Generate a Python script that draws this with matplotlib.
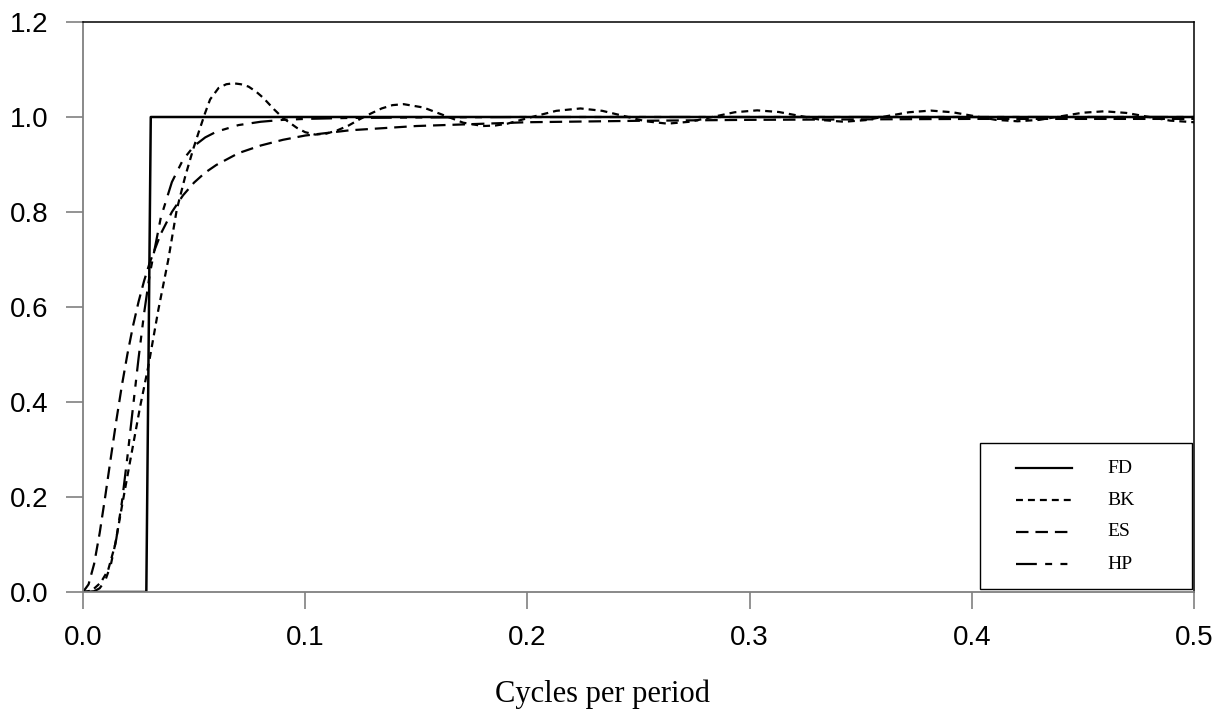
import matplotlib
matplotlib.use("Agg")
import matplotlib.pyplot as plt
from matplotlib.lines import Line2D
from matplotlib.patches import Rectangle

plt.rcParams["lines.scale_dashes"] = False

# ideal frequency-domain filter (FD)
fd_freq = [0.0, 0.0285, 0.0305, 0.5]
fd_gain = [0.0, 0.0, 1.0, 1.0]

# Baxter-King (BK)
bk_freq = [0.0, 0.004, 0.008, 0.0113, 0.0145, 0.0175, 0.021, 0.0257, 0.0294, 0.0339,
           0.0384, 0.0422, 0.046, 0.0497, 0.0522, 0.055, 0.0572, 0.061, 0.0645, 0.0677,
           0.071, 0.0745, 0.078, 0.0812, 0.086, 0.090, 0.0963, 0.100, 0.1045, 0.1095,
           0.1145, 0.1195, 0.1244, 0.1294, 0.1344, 0.1393, 0.1443, 0.1532, 0.1622, 0.1711,
           0.180, 0.1855, 0.191, 0.202, 0.213, 0.2239, 0.2337, 0.2435, 0.2532, 0.263,
           0.2731, 0.2832, 0.2933, 0.3034, 0.3132, 0.3229, 0.3327, 0.3425, 0.3522, 0.362,
           0.3717, 0.3815, 0.3913, 0.401, 0.4108, 0.4206, 0.4304, 0.4401, 0.4499, 0.4596,
           0.4695, 0.4793, 0.4892, 0.5]
bk_gain = [0.0, 0.003, 0.02, 0.046, 0.10, 0.18, 0.27, 0.39, 0.475, 0.594,
           0.70, 0.805, 0.875, 0.934, 0.97, 1.009, 1.037, 1.061, 1.069, 1.071,
           1.069, 1.064, 1.053, 1.040, 1.016, 0.998, 0.977, 0.968, 0.963, 0.965,
           0.972, 0.982, 0.995, 1.007, 1.018, 1.025, 1.027, 1.020, 1.004, 0.988,
           0.981, 0.982, 0.986, 1.000, 1.013, 1.018, 1.013, 1.002, 0.991, 0.986,
           0.990, 1.000, 1.010, 1.014, 1.0105, 1.002, 0.9935, 0.990, 0.9934, 1.002,
           1.010, 1.0135, 1.010, 1.002, 0.994, 0.991, 0.994, 1.0015, 1.009, 1.012,
           1.0086, 1.0005, 0.9924, 0.989]

# exponential smoothing (ES) and Hodrick-Prescott (HP), same grid
sm_freq = [0.0, 0.0025, 0.005, 0.0075, 0.01, 0.0125, 0.015, 0.0175, 0.02, 0.0225,
           0.025, 0.0275, 0.03, 0.035, 0.04, 0.045, 0.05, 0.055, 0.06, 0.07,
           0.08, 0.09, 0.10, 0.12, 0.15, 0.2, 0.25, 0.3, 0.35, 0.4, 0.45, 0.5]
es_gain = [0.0, 0.016, 0.059, 0.124, 0.201, 0.282, 0.361, 0.435, 0.501, 0.560,
           0.611, 0.655, 0.693, 0.754, 0.800, 0.835, 0.862, 0.883, 0.899, 0.924,
           0.940, 0.952, 0.961, 0.972, 0.981, 0.989, 0.992, 0.994, 0.995, 0.996, 0.996, 0.996]
hp_gain = [0.0, 0.0001, 0.0016, 0.0078, 0.024, 0.057, 0.112, 0.189, 0.285, 0.389,
           0.492, 0.587, 0.668, 0.788, 0.863, 0.910, 0.939, 0.957, 0.969, 0.983,
           0.990, 0.994, 0.996, 0.998, 0.999, 1.0, 1.0, 1.0, 1.0, 1.0, 1.0, 1.0]

x_ticks = [0.0, 0.1, 0.2, 0.3, 0.4, 0.5]
y_ticks = [0.0, 0.2, 0.4, 0.6, 0.8, 1.0, 1.2]

STYLES = {
    "FD": "-",
    "BK": (0, (5, 3.6)),
    "ES": (0, (9, 5)),
    "HP": (0, (15, 6, 5, 6, 5, 6)),
}
LW = 1.6

fig = plt.figure(figsize=(12.24, 7.11), dpi=100)
ax = fig.add_axes([83 / 1224, 1 - 592 / 711, 1111 / 1224, 570 / 711])

ax.plot(fd_freq, fd_gain, color="black", lw=1.8, ls=STYLES["FD"])
ax.plot(bk_freq, bk_gain, color="black", lw=LW, ls=STYLES["BK"])
ax.plot(sm_freq, es_gain, color="black", lw=LW, ls=STYLES["ES"])
ax.plot(sm_freq, hp_gain, color="black", lw=LW, ls=STYLES["HP"])

ax.set_xlim(0, 0.5)
ax.set_ylim(0, 1.2)
ax.set_xticks(x_ticks)
ax.set_xticklabels([f"{t:.1f}" for t in x_ticks])
ax.set_yticks(y_ticks)
ax.set_yticklabels([f"{t:.1f}" for t in y_ticks])
for lab in ax.get_xticklabels() + ax.get_yticklabels():
    lab.set_fontfamily("Liberation Sans")
    lab.set_fontsize(20)
ax.tick_params(axis="both", direction="out", length=12, width=1.2, color="#808080")
ax.tick_params(axis="x", pad=12)
ax.tick_params(axis="y", pad=13)

for side in ("left", "bottom"):
    ax.spines[side].set_color("#808080")
    ax.spines[side].set_linewidth(1.3)
for side in ("top", "right"):
    ax.spines[side].set_color("black")
    ax.spines[side].set_linewidth(1.1)

ax.set_xlabel("Cycles per period", fontfamily="Liberation Serif", fontsize=22)
ax.xaxis.label.set_va("baseline")
ax.xaxis.set_label_coords((602.5 - 83) / 1111, -(701.7 - 592) / 570)

# hand-placed legend box like the original
ax.add_patch(Rectangle((0.8074, 0.0053), 0.1908, 0.2561, transform=ax.transAxes,
                       facecolor="white", edgecolor="black", lw=1.0, zorder=5))
rows = [0.2175, 0.1614, 0.1053, 0.0491]
for name, yrow in zip(["FD", "BK", "ES", "HP"], rows):
    ax.add_line(Line2D([0.840, 0.890], [yrow, yrow], transform=ax.transAxes,
                       color="black", lw=LW, ls=STYLES[name], zorder=6))
    ax.text(0.9217, yrow, name, transform=ax.transAxes, va="center", ha="left",
            fontfamily="Liberation Serif", fontsize=14, zorder=6)

fig.savefig("out.png", dpi=100)
